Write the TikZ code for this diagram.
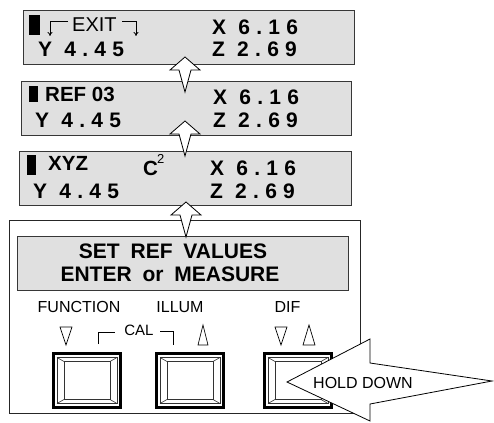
\documentclass[tikz,border=0pt]{standalone}
\usepackage{fontspec}
\setmainfont{Liberation Sans}
\newfontfamily\lcdfont{Liberation Sans}[LetterSpace=30]
\usetikzlibrary{arrows.meta}
\definecolor{lcdgray}{RGB}{224,224,224}
\definecolor{lcdedge}{RGB}{55,55,55}
\tikzset{
	lcd/.style={draw=lcdedge,fill=lcdgray,line width=1.3pt,anchor=north west,inner sep=0},
	panel/.style={draw=black!85,fill=white,line width=1pt,anchor=north west,inner sep=0},
	cursor/.style={fill=black,anchor=north west,inner sep=0},
	readout/.style={font=\lcdfont\bfseries\fontsize{21}{24}\selectfont,anchor=base west,inner sep=0},
	boldtxt/.style={font=\bfseries\fontsize{20.5}{24}\selectfont,anchor=base west,inner sep=0},
	msgtxt/.style={font=\bfseries\fontsize{21}{24}\selectfont,anchor=base,inner sep=0},
	keytxt/.style={font=\fontsize{16}{19}\selectfont,anchor=base,inner sep=0},
	steparrow/.style={draw=black,fill=white,line width=0.8pt,line join=miter},
	holdarrow/.style={draw=black,fill=white,line width=0.8pt},
	btn/.style={draw=black,line width=3pt,minimum width=67,minimum height=54,inner sep=0},
	bevel/.style={draw=black!80,line width=0.6pt},
	tri/.style={draw=black,line width=0.7pt,line join=miter},
	exitmark/.style={draw=black,line width=0.8pt,-{To[length=4pt,width=5pt]}}
}
\newcommand{\wsp}{\hspace{5pt} }
\begin{document}
\begin{tikzpicture}[x=1pt,y=-1pt]
	\useasboundingbox (0,0) rectangle (494,422);

	%% display 1 : exit
	\node[lcd,minimum width=331,minimum height=54] (d1) at (23,10) {};
	\node[cursor,minimum width=11,minimum height=20] (cur1) at (29,15) {};
	\node[font=\fontsize{20}{24}\selectfont,anchor=base west,inner sep=0] (exit) at (72,32) {EXIT};
	\coordinate (ex1) at (68,21);
	\coordinate (ex2) at (122,21);
	\draw[exitmark] (ex1) -- (50,21) -- (50,36);
	\draw[exitmark] (ex2) -- (136,21) -- (136,36);
	\node[readout] (x1) at (212,35) {X 6.16};
	\node[readout] (y1) at (38,57) {Y 4.45};
	\node[readout] (z1) at (212,57) {Z 2.69};

	%% display 2 : ref
	\node[lcd,minimum width=330,minimum height=54] (d2) at (21,81) {};
	\node[cursor,minimum width=9,minimum height=16] (cur2) at (29,86) {};
	\node[boldtxt] (ref) at (45,102) {REF 03};
	\node[readout] (x2) at (213,105) {X 6.16};
	\node[readout] (y2) at (35,128) {Y 4.45};
	\node[readout] (z2) at (213,128) {Z 2.69};

	%% display 3 : xyz
	\node[lcd,minimum width=332,minimum height=54] (d3) at (19,151) {};
	\node[cursor,minimum width=9,minimum height=20] (cur3) at (27,155) {};
	\node[boldtxt] (xyz) at (48,170) {XYZ};
	\node[boldtxt] (c2) at (143,175) {C};
	\node[font=\fontsize{13}{15}\selectfont,anchor=base west,inner sep=0] (sq) at (157,163) {2};
	\node[readout] (x3) at (210,175) {X 6.16};
	\node[readout] (y3) at (33,198) {Y 4.45};
	\node[readout] (z3) at (210,198) {Z 2.69};

	%% front panel
	\node[panel,minimum width=351,minimum height=193] (panel) at (9,220) {};
	\node[lcd,minimum width=331,minimum height=54] (msg) at (17,236) {};
	\node[msgtxt] (msg1) at (173,258) {SET\wsp REF\wsp VALUES};
	\node[msgtxt] (msg2) at (170,281) {ENTER\wsp or\wsp MEASURE};

	%% key labels
	\node[keytxt] (fun) at (79,312) {FUNCTION};
	\node[keytxt] (ill) at (180,312) {ILLUM};
	\node[keytxt] (dif) at (287.5,312) {DIF};
	\node[keytxt,font=\fontsize{15}{18}\selectfont] (cal) at (139,335) {CAL};
	\draw[tri] (98,344) -- (98,332) -- (115,332);
	\draw[tri] (160,331) -- (173,331) -- (173,345);
	\draw[tri] (60,327) -- (72,327) -- (66,345) -- cycle;
	\draw[tri] (198,345) -- (208,345) -- (203,325) -- cycle;
	\draw[tri] (275,327) -- (287,327) -- (281,345) -- cycle;
	\draw[tri] (303,345) -- (315,345) -- (309,325) -- cycle;

	%% keys
	\foreach \n/\cx in {bfun/87,bill/190,bdif/298} {
		\node[btn] (\n) at (\cx,380.5) {};
		\draw[bevel] ([shift={(-30,-23)}]\n.center) rectangle ([shift={(30,23)}]\n.center);
		\draw[bevel] ([shift={(-23,-19)}]\n.center) rectangle ([shift={(23,19)}]\n.center);
		\draw[bevel] ([shift={(-30,-23)}]\n.center) -- ([shift={(-23,-19)}]\n.center);
		\draw[bevel] ([shift={(30,-23)}]\n.center) -- ([shift={(23,-19)}]\n.center);
		\draw[bevel] ([shift={(-30,23)}]\n.center) -- ([shift={(-23,19)}]\n.center);
		\draw[bevel] ([shift={(30,23)}]\n.center) -- ([shift={(23,19)}]\n.center);
	}

	%% arrows between the screens
	\coordinate (s1) at (185,57);
	\coordinate (s2) at (185,121);
	\coordinate (s3) at (186,202);
	\foreach \s in {s1,s2,s3}
		\draw[steparrow] (\s) -- ++(15,13) -- ++(-9,0) -- ++(-6,22) -- ++(-6,-22) -- ++(-9,0) -- cycle;

	%% hold down
	\coordinate (hd) at (287,382);
	\draw[holdarrow] (hd) -- (370,339) -- (370,363) -- (492,381) -- (370,404) -- (370,421) -- cycle;
	\node[keytxt] (hold) at (363,388) {HOLD DOWN};
\end{tikzpicture}
\end{document}
